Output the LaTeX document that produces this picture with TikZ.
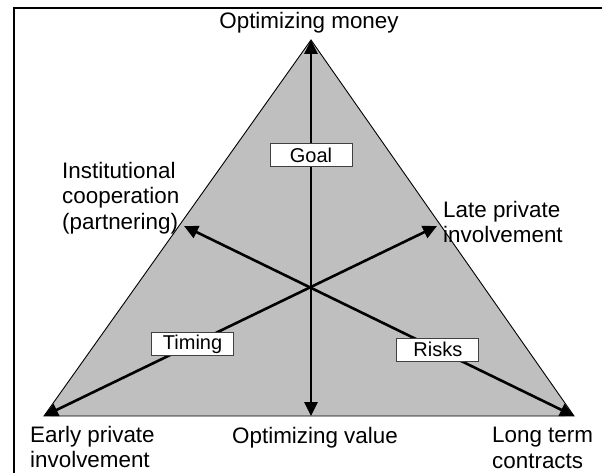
\documentclass[tikz,border=0pt]{standalone}
\usepackage{fontspec}
\setmainfont{Liberation Sans}
\usepackage{tikz}
\usetikzlibrary{arrows.meta}

\begin{document}
\begin{tikzpicture}[x=1pt,y=-1pt]
            \tikzstyle{label} = [inner sep=0pt, align=left, font=\fontsize{22.4}{25.5}\selectfont]
            \tikzstyle{tag} = [draw=black!75, line width=0.8pt, fill=white, inner sep=0pt,
                               minimum width=82pt, minimum height=23pt, font=\fontsize{20}{24}\selectfont]
            \tikzstyle{axis} = [line width=2.6pt, {Triangle[length=14pt,width=13pt]}-{Triangle[length=14pt,width=13pt]}]

            \useasboundingbox (0,0) rectangle (602,473);
            % frame
            \draw[line width=2pt] (13.5,473) |- (602,8);

            % corners and arrow ends
            \coordinate (top) at (311,40);
            \coordinate (left) at (44,416);
            \coordinate (right) at (574,416);
            \coordinate (base) at (311,416);
            \coordinate (lateTip) at (437,226);
            \coordinate (partTip) at (184,226);

            \filldraw[fill=black!25, line width=0.9pt] (left) -- (top) -- (right) -- cycle;

            \draw[axis] (top) -- node[tag, pos=0.306] {Goal} (base);
            \draw[axis] (left) -- node[tag, pos=0.378] {Timing} (lateTip);
            \draw[axis] (right) -- node[tag, pos=0.349] {Risks} (partTip);

            \node[label, anchor=north] (money) at (309,12) {Optimizing money};
            \node[label, anchor=north west] (partner) at (62,162) {Institutional\\cooperation\\(partnering)};
            \node[label, anchor=north west] (late) at (443,201) {Late private\\involvement};
            \node[label, anchor=north west] (early) at (30,426) {Early private\\involvement};
            \node[label, anchor=north] (value) at (315,427) {Optimizing value};
            \node[label, anchor=north west] (long) at (492,427) {Long term\\contracts};
\end{tikzpicture}
\end{document}
